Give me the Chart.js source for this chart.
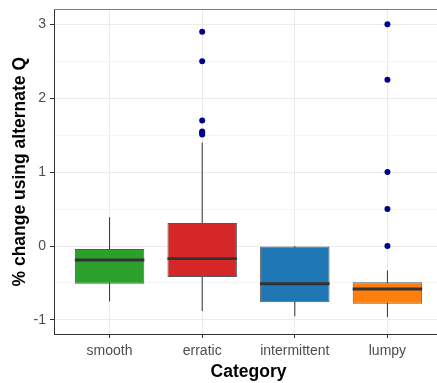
<!DOCTYPE html>
<html>
<head>
<meta charset="utf-8">
<script src="https://cdn.jsdelivr.net/npm/chart.js@4/dist/chart.umd.min.js"></script>
<style>
  body { margin: 0; background: #fff; overflow: hidden; }
  #wrap { width: 437px; height: 383px; overflow: hidden; }
</style>
</head>
<body>
<div id="wrap"><canvas id="box-chart" width="447" height="383"></canvas></div>
<script>
// Daten
var categories = ["smooth", "erratic", "intermittent", "lumpy"];
var boxColors  = ["#2ca02c", "#d62728", "#1f77b4", "#ff7f0e"];
var whiskerLow  = [-0.75, -0.88, -0.95, -0.96];
var q1          = [-0.51, -0.42, -0.76, -0.78];
var median      = [-0.19, -0.17, -0.51, -0.58];
var q3          = [-0.04,  0.31,  0.00, -0.49];
var whiskerHigh = [ 0.39,  1.40,  0.00, -0.33];
var outliers = [
    [],
    [2.90, 2.50, 1.70, 1.55, 1.53, 1.51],
    [],
    [3.00, 2.25, 1.00, 0.50, 0.00]
];
var yTicks = [-1, 0, 1, 2, 3];

// Datenpunkte fuer Chart.js aufbauen
var boxData = [], medianData = [], whiskerData = [], outlierData = [];
for (var i = 0; i < categories.length; i++) {
    var x = i + 1;
    boxData.push({x: x, y: [q1[i], q3[i]]});
    medianData.push({x: x, y: [median[i] - 0.02, median[i] + 0.02]});
    whiskerData.push({x: x, y: whiskerLow[i]});
    whiskerData.push({x: x, y: whiskerHigh[i]});
    whiskerData.push({x: x, y: null});
    outliers[i].forEach(function(v) { outlierData.push({x: x, y: v}); });
}

// obere Rahmenlinie des Panels
var topBorder = {
    id: "topBorder",
    afterDraw: function(chart) {
        var a = chart.chartArea, ctx = chart.ctx;
        ctx.save();
        ctx.strokeStyle = "#7f7f7f";
        ctx.lineWidth = 1.2;
        ctx.beginPath();
        ctx.moveTo(a.left, a.top);
        ctx.lineTo(a.right, a.top);
        ctx.stroke();
        ctx.restore();
    }
};

var font = "'Liberation Sans', Arial, sans-serif";

var chart = new Chart(document.getElementById("box-chart"), {
    type: "bar",
    data: {
        datasets: [{
            type: "line",
            data: whiskerData,
            borderColor: "#333333",
            borderWidth: 1,
            pointRadius: 0,
            spanGaps: false,
            order: 4
        }, {
            data: boxData,
            backgroundColor: boxColors,
            borderColor: "#595959",
            borderWidth: 1,
            borderSkipped: false,
            grouped: false,
            barPercentage: 0.75,
            categoryPercentage: 1,
            order: 3
        }, {
            data: medianData,
            backgroundColor: "#333333",
            borderWidth: 0,
            grouped: false,
            barPercentage: 0.75,
            categoryPercentage: 1,
            order: 2
        }, {
            type: "line",
            data: outlierData,
            showLine: false,
            pointRadius: 3,
            pointBackgroundColor: "#00008b",
            pointBorderColor: "#00008b",
            pointBorderWidth: 0,
            order: 1
        }]
    },
    options: {
        responsive: false,
        animation: false,
        layout: { padding: { top: 9.5, left: 0, right: 0, bottom: 0 } },
        plugins: { legend: { display: false }, tooltip: { enabled: false } },
        scales: {
            x: {
                type: "linear",
                min: 0.4,
                max: 4.6,
                offset: false,
                afterBuildTicks: function(scale) {
                    scale.ticks = categories.map(function(c, i) { return {value: i + 1}; });
                },
                afterFit: function(scale) { scale.height = 49; },
                ticks: {
                    color: "#4d4d4d",
                    font: { family: font, size: 14 },
                    padding: 5,
                    maxRotation: 0,
                    autoSkip: false,
                    callback: function(v) { return categories[v - 1]; }
                },
                grid: { offset: false, color: "#ebebeb", tickColor: "#333333", tickLength: 4 },
                border: { color: "#333333", width: 1 },
                title: {
                    display: true,
                    text: "Category",
                    color: "#000",
                    font: { family: font, size: 17.5, weight: "bold" },
                    padding: { top: 0, bottom: 0 }
                }
            },
            y: {
                min: -1.19,
                max: 3.2,
                afterBuildTicks: function(scale) {
                    var t = [];
                    for (var v = -1; v <= 3; v += 0.5) t.push({value: v});
                    scale.ticks = t;
                },
                afterFit: function(scale) {
                    scale.width = 54;
                    scale.paddingTop = 0;
                    scale.paddingBottom = 0;
                },
                ticks: {
                    color: "#4d4d4d",
                    font: { family: font, size: 14 },
                    padding: 4,
                    callback: function(v) { return yTicks.indexOf(v) >= 0 ? String(v) : ""; }
                },
                grid: {
                    tickLength: 4,
                    color: function(ctx) { return Number.isInteger(ctx.tick.value) ? "#ebebeb" : "#f4f4f4"; },
                    tickColor: function(ctx) { return Number.isInteger(ctx.tick.value) ? "#333333" : "rgba(0,0,0,0)"; }
                },
                border: { color: "#333333", width: 1 },
                title: {
                    display: true,
                    text: "% change using alternate Q",
                    color: "#000",
                    font: { family: font, size: 17.5, weight: "bold" },
                    padding: { top: 10, bottom: 0 }
                }
            }
        }
    },
    plugins: [topBorder]
});
</script>
</body>
</html>
